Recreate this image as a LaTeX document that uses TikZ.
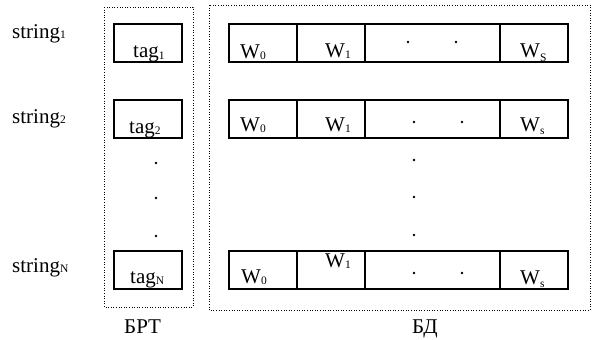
\documentclass[tikz,border=0pt]{standalone}
\usepackage{fontspec}
\setmainfont{Liberation Serif}
\newcommand\sx[1]{{\fontsize{21}{21}\selectfont #1}}
\newcommand\sbs[2][1.5pt]{\raisebox{-#1}{\fontsize{11.5}{11.5}\selectfont #2}}
\begin{document}
\begin{tikzpicture}[x=1pt,y=-1pt,
  cell/.style={draw, line width=1.2pt, inner sep=0pt, minimum height=38pt, minimum width=68pt},
  wide/.style={cell, minimum width=135pt},
  txt/.style={anchor=base west, inner sep=0pt},
  dotbox/.style={draw, dotted, line width=0.6pt},
  dt/.style={fill=black}]
\useasboundingbox (0,0) rectangle (592,340);
% dotted groups
\draw[dotbox] (104,7) rectangle (193,307);
\draw[dotbox] (209,5) rectangle (590,310);
% string labels
\node[txt] (s1) at (12,38) {\sx{string}\sbs[0.5pt]{1}};
\node[txt] (s2) at (12,123) {\sx{string}\sbs[0.5pt]{2}};
\node[txt] (sN) at (12,272) {\sx{string}\sbs[0.5pt]{N}};
% tag cells
\node[cell] (t1) at (148,43) {};
\node[cell] (t2) at (148,119) {};
\node[cell] (tN) at (148,270) {};
\node[txt] (t1l) at (133,57.5) {\sx{tag}\sbs{1}};
\node[txt] (t2l) at (129,133) {\sx{tag}\sbs{2}};
\node[txt] (tNl) at (130,283) {\sx{tag}\sbs{N}};
% row 1
\node[cell] (a0) at (263,43) {};
\node[cell] (a1) at (331,43) {};
\node[wide] (ad) at (432.5,43) {};
\node[cell] (as) at (534,43) {};
\node[txt] (a0l) at (240,58) {\sx{W}\sbs{0}};
\node[txt] (a1l) at (325,57) {\sx{W}\sbs{1}};
\node[txt] (asl) at (520,57) {\sx{W}\sbs[4pt]{S}};
\fill[dt] (408,42) circle (1.4pt) (456,42) circle (1.4pt);
% row 2
\node[cell] (b0) at (263,119) {};
\node[cell] (b1) at (331,119) {};
\node[wide] (bd) at (432.5,119) {};
\node[cell] (bs) at (534,119) {};
\node[txt] (b0l) at (240,131) {\sx{W}\sbs{0}};
\node[txt] (b1l) at (325,131) {\sx{W}\sbs{1}};
\node[txt] (bsl) at (520,131) {\sx{W}\sbs[3pt]{s}};
\fill[dt] (414,122) circle (1.4pt) (462,122) circle (1.4pt);
% row N
\node[cell] (c0) at (263,270) {};
\node[cell] (c1) at (331,270) {};
\node[wide] (cd) at (432.5,270) {};
\node[cell] (cs) at (534,270) {};
\node[txt] (c0l) at (241,283) {\sx{W}\sbs{0}};
\node[txt] (c1l) at (325,267) {\sx{W}\sbs{1}};
\node[txt] (csl) at (520,284) {\sx{W}\sbs[3pt]{s}};
\fill[dt] (414,273) circle (1.4pt) (462,273) circle (1.4pt);
% vertical dots
\fill[dt] (156,163) circle (1.4pt) (156,198) circle (1.4pt) (156,236) circle (1.4pt);
\fill[dt] (414,160) circle (1.4pt) (414,197) circle (1.4pt) (414,235) circle (1.4pt);
% captions
\node[txt] (brt) at (124,333) {\sx{БРТ}};
\node[txt] (bdl) at (412,333) {\sx{БД}};
\end{tikzpicture}
\end{document}
